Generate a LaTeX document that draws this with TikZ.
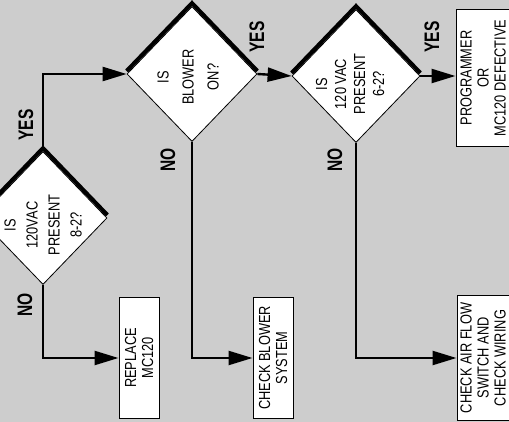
\documentclass[tikz,border=0pt]{standalone}
\usepackage{fontspec}
\setmainfont{Liberation Sans}[FakeStretch=0.8]
\newfontfamily\flagfont{Liberation Sans}[FakeStretch=0.74]
\usepackage{tikz}
\usetikzlibrary{arrows.meta,shapes.geometric,positioning}
\usepackage{xcolor}
\definecolor{dfstipple}{RGB}{205,205,205}
\tikzstyle{arrow} = [line width=2.4pt,-{Triangle[length=24pt,width=14pt]}]
\tikzstyle{decision} = [diamond, draw, fill=white, line width=0.8pt, inner sep=0pt]
\tikzstyle{action} = [rectangle, draw, fill=white, line width=1pt, rotate=90, align=center, inner sep=0pt]
\tikzstyle{question} = [rotate=90, align=center]
\tikzstyle{ridge} = [line width=4pt, line join=miter]
\tikzstyle{flag} = [rotate=90, inner sep=0pt, font=\flagfont\bfseries\fontsize{21}{22}\selectfont]

\begin{document}
\begin{tikzpicture}[x=1pt, y=-1pt, font=\fontsize{16}{17}\selectfont]
% Background
\useasboundingbox (0,0) rectangle (509,422);
\fill[dfstipple] (0,0) rectangle (509,422);

% Nodes
\node (present8) [decision, minimum width=128pt, minimum height=133pt] at (43,218) {};
\node (bloweron) [decision, minimum width=130pt, minimum height=135pt] at (192,74) {};
\node (present6) [decision, minimum width=128pt, minimum height=133pt] at (356,76) {};
\node (programmer) [action, minimum width=137pt, minimum height=54pt] at (483,78) {PROGRAMMER\\OR\\MC120 DEFECTIVE};
\node (checkairflow) [action, minimum width=124pt, minimum height=52pt] at (483,358) {CHECK AIR FLOW\\SWITCH AND\\CHECK WIRING};
\node (replace) [action, minimum width=120pt, minimum height=40pt] at (139,358) {REPLACE\\MC120};
\node (checkblower) [action, minimum width=120pt, minimum height=40pt] at (273,358) {CHECK BLOWER\\SYSTEM};

% Questions
\node [question, font=\fontsize{16}{22}\selectfont] at ([xshift=0pt,yshift=-7pt]present8) {IS\\120VAC\\PRESENT\\8-2?};
\node [question, font=\fontsize{16}{25}\selectfont] at ([xshift=-4pt,yshift=-3pt]bloweron) {IS\\BLOWER\\ON?};
\node [question, font=\fontsize{16}{19}\selectfont] at ([xshift=-6pt,yshift=-8pt]present6) {IS\\120 VAC\\PRESENT\\6-2?};

% Ridges
\foreach \d in {present8,bloweron,present6}
  \draw[ridge] ([yshift=3pt]\d.west) -- ([yshift=3pt]\d.north) -- ([yshift=3pt]\d.east);

% Arrows
\draw[arrow] (present8.north) |- (bloweron.west);
\draw[arrow] (bloweron.east) -- (present6.west);
\draw[arrow] (present6.east) -- (present6.east -| programmer.north);
\draw[arrow] (present8.south) |- (replace);
\draw[arrow] (bloweron.south) |- (checkblower);
\draw[arrow] (present6.south) |- (checkairflow);

% Labels
\node [flag] at (26,125) {YES};
\node [flag] at (257,37) {YES};
\node [flag] at (432,37) {YES};
\node [flag] at (25,305) {NO};
\node [flag] at (168,160) {NO};
\node [flag] at (335,160) {NO};
\end{tikzpicture}
\end{document}
